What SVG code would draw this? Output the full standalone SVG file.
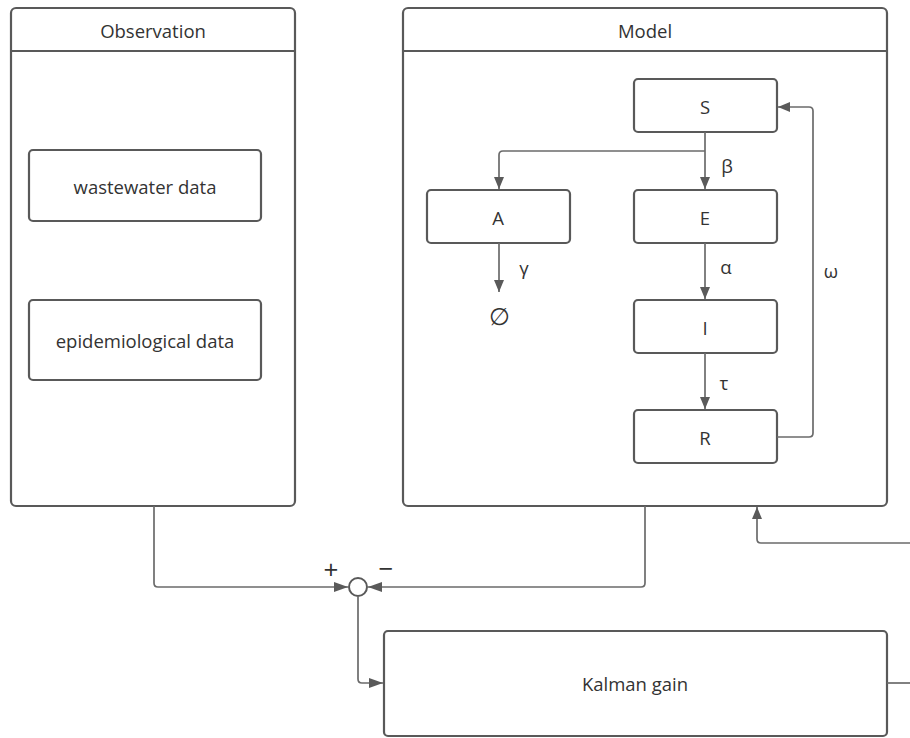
<svg xmlns="http://www.w3.org/2000/svg" width="910" height="738" viewBox="0 0 910 738">
<defs>
<style>
.box{fill:#fff;stroke:#595959;stroke-width:2.2}
.ln{fill:none;stroke:#6b6b6b;stroke-width:1.7}
.t{font-family:"Open Sans","Noto Sans",sans-serif;font-size:18.5px;fill:#333;text-anchor:middle;dominant-baseline:central}
</style>
<marker id="ah" viewBox="0 0 12 10" refX="12" refY="5" markerWidth="12" markerHeight="10" markerUnits="userSpaceOnUse" orient="auto">
<path d="M0,0 L12,5 L0,10 z" fill="#5a5a5a"/>
</marker>
<marker id="ahl" viewBox="0 0 14 10" refX="14" refY="5" markerWidth="14" markerHeight="10" markerUnits="userSpaceOnUse" orient="auto">
<path d="M0,0 L14,5 L0,10 z" fill="#5a5a5a"/>
</marker>
</defs>
<rect width="910" height="738" fill="#fff"/>
<g id="observation">
<rect class="box" x="11" y="8" width="284" height="498" rx="5"/>
<line x1="11" y1="51" x2="295" y2="51" stroke="#595959" stroke-width="2.2"/>
<text class="t" x="153" y="30">Observation</text>
</g>
<g id="wastewater">
<rect class="box" x="29" y="150" width="232" height="71" rx="4"/>
<text class="t" x="145" y="186">wastewater data</text>
</g>
<g id="epidemiological">
<rect class="box" x="29" y="300" width="232" height="80" rx="4"/>
<text class="t" x="145" y="340">epidemiological data</text>
</g>
<g id="model">
<rect class="box" x="403" y="8" width="484" height="498" rx="5"/>
<line x1="403" y1="51" x2="887" y2="51" stroke="#595959" stroke-width="2.2"/>
<text class="t" x="645" y="30">Model</text>
</g>
<g id="S"><rect class="box" x="634" y="79" width="143" height="53" rx="4"/><text class="t" x="705" y="106">S</text></g>
<g id="A"><rect class="box" x="427" y="190" width="143" height="53" rx="4"/><text class="t" x="498" y="217">A</text></g>
<g id="E"><rect class="box" x="634" y="190" width="143" height="53" rx="4"/><text class="t" x="705" y="217">E</text></g>
<g id="I"><rect class="box" x="634" y="300" width="143" height="53" rx="4"/><text class="t" x="705" y="327">I</text></g>
<g id="R"><rect class="box" x="634" y="410" width="143" height="53" rx="4"/><text class="t" x="705" y="437">R</text></g>
<g id="empty"><text class="t" x="499" y="315" style="font-size:24px">∅</text></g>
<g id="sum"><circle cx="358" cy="587" r="9" fill="#fff" stroke="#595959" stroke-width="2"/></g>
<g id="kalman">
<rect class="box" x="384" y="631" width="503" height="105" rx="4"/>
<text class="t" x="635" y="683">Kalman gain</text>
</g>
<g id="connectors">
<path class="ln" d="M705,132 V189" marker-end="url(#ah)"/>
<path class="ln" d="M705,151 H503 Q499,151 499,155 V189" marker-end="url(#ah)"/>
<path class="ln" d="M705,243 V299" marker-end="url(#ah)"/>
<path class="ln" d="M705,353 V409" marker-end="url(#ah)"/>
<path class="ln" d="M499,243 V292" marker-end="url(#ah)"/>
<path class="ln" d="M777,437 H809 Q813,437 813,433 V111 Q813,107 809,107 H778" marker-end="url(#ah)"/>
<path class="ln" d="M154,506 V583 Q154,587 158,587 H348" marker-end="url(#ahl)"/>
<path class="ln" d="M645,506 V583 Q645,587 641,587 H368" marker-end="url(#ahl)"/>
<path class="ln" d="M358,596 V679 Q358,683 362,683 H383" marker-end="url(#ahl)"/>
<path class="ln" d="M887,683 H910"/>
<path class="ln" d="M910,543 H761 Q757,543 757,539 V507" marker-end="url(#ah)"/>
</g>
<g id="labels">
<text class="t" x="727" y="165">β</text>
<text class="t" x="726" y="266">α</text>
<text class="t" x="724" y="382">τ</text>
<text class="t" x="524" y="267">γ</text>
<text class="t" x="831" y="270">ω</text>
<text class="t" x="331" y="569" style="font-size:26px">+</text>
<text class="t" x="386" y="568" style="font-size:26px">−</text>
</g>
</svg>
